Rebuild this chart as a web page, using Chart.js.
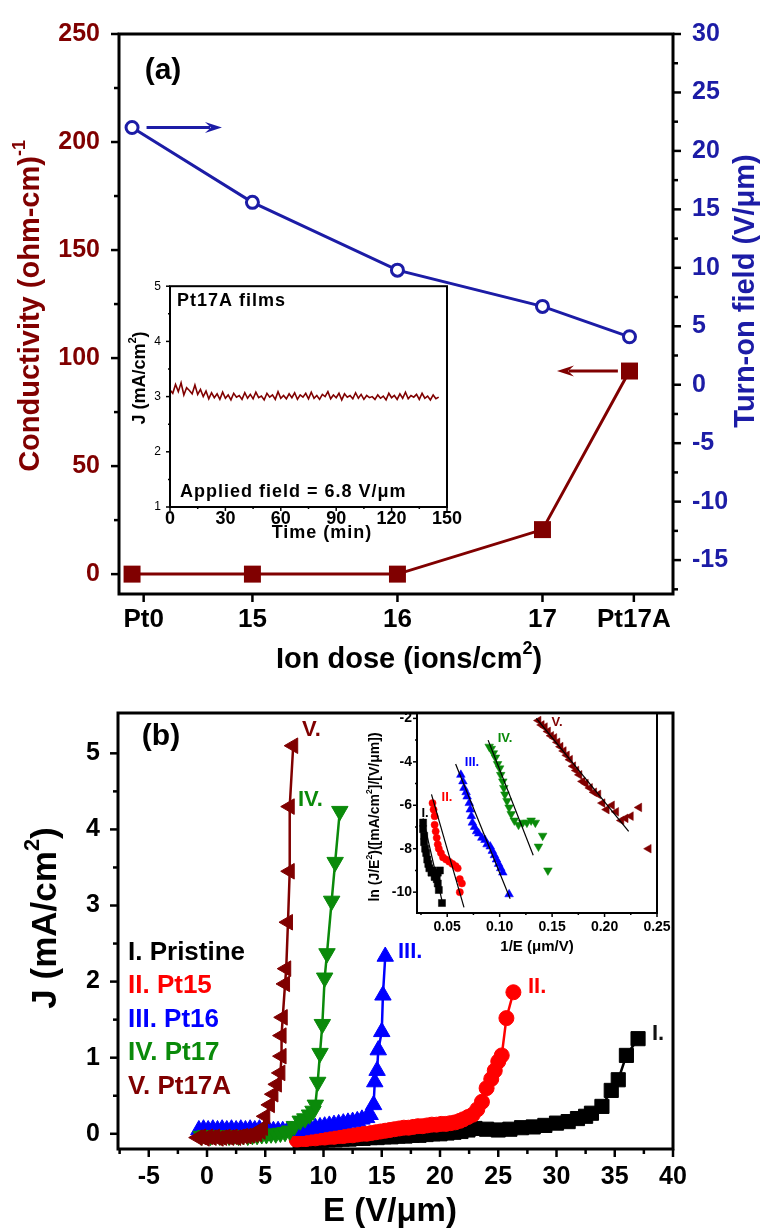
<!DOCTYPE html>
<html>
<head>
<meta charset="utf-8">
<script src="https://cdn.jsdelivr.net/npm/chart.js@4.4.0/dist/chart.umd.min.js"></script>
<style>
body { margin: 0; background: #fff; width: 762px; height: 1228px; position: relative; overflow: hidden; }
canvas { position: absolute; }
</style>
</head>
<body>
<canvas id="cA" width="762" height="680" style="left:0;top:0"></canvas>
<canvas id="cB" width="762" height="548" style="left:0;top:680px"></canvas>
<canvas id="cAi" width="345" height="280" style="left:120px;top:270px"></canvas>
<canvas id="cBi" width="320" height="260" style="left:360px;top:700px"></canvas>
<script>
var FONT = "'Liberation Sans', Arial, sans-serif";
Chart.defaults.font.family = FONT;
Chart.defaults.font.weight = 'bold';
Chart.defaults.color = '#000';
Chart.defaults.animation = false;

var DRED = '#800000', NAVY = '#1c1ca6';
var RED = '#ff0000', BLUE = '#0000ff', GREEN = '#0a8a0a';

// ---- panel (a): conductivity and turn-on field vs ion dose
var doseLabels = ['Pt0', '15', '16', '17', 'Pt17A'];
var doseTickPos = [14.25, 15, 16, 17, 17.63];
var doseX = [14.17, 15, 16, 17, 17.6];
var conductivity = [0, 0, 0, 20.6, 94];
var turnOnField = [22, 15.6, 9.8, 6.7, 4.1];
var condTicks = [0, 50, 100, 150, 200, 250];
var condMinor = [25, 75, 125, 175, 225];
var fieldTicks = [-15, -10, -5, 0, 5, 10, 15, 20, 25, 30];
var fieldMinor = [-17.5, -12.5, -7.5, -2.5, 2.5, 7.5, 12.5, 17.5, 22.5, 27.5];

// ---- inset of (a): stability of Pt17A film
var timeMin = [0, 1.5, 3, 4.5, 6, 7.5, 9, 10.5, 12, 13.5, 15, 16.5, 18, 19.5,
  21, 22.5, 24, 25.5, 27, 28.5, 30, 31.5, 33, 34.5, 36, 37.5, 39, 40.5,
  42, 43.5, 45, 46.5, 48, 49.5, 51, 52.5, 54, 55.5, 57, 58.5, 60, 61.5,
  63, 64.5, 66, 67.5, 69, 70.5, 72, 73.5, 75, 76.5, 78, 79.5, 81, 82.5,
  84, 85.5, 87, 88.5, 90, 91.5, 93, 94.5, 96, 97.5, 99, 100.5, 102, 103.5,
  105, 106.5, 108, 109.5, 111, 112.5, 114, 115.5, 117, 118.5, 120, 121.5, 123, 124.5,
  126, 127.5, 129, 130.5, 132, 133.5, 135, 136.5, 138, 139.5, 141, 142.5, 144, 145.5];
var jStab = [3.12, 3.06, 3.22, 3.09, 3.25, 3.03, 3.16, 3.11, 3.05, 3.21, 3.04, 3.13, 3.00, 3.10,
  2.96, 3.07, 2.98, 3.05, 2.95, 3.08, 2.97, 3.03, 2.94, 3.06, 2.99, 3.02, 2.95, 3.07,
  2.97, 3.04, 2.96, 3.08, 2.98, 3.01, 2.94, 3.06, 2.99, 3.03, 2.95, 3.09, 2.97, 3.02,
  2.96, 3.05, 2.98, 3.07, 2.95, 3.03, 2.99, 3.06, 2.96, 3.08, 2.97, 3.02, 2.95, 3.04,
  3.00, 3.09, 2.96, 3.03, 2.98, 3.06, 2.94, 3.05, 2.99, 3.02, 2.96, 3.07, 2.97, 3.04,
  2.95, 3.02, 2.98, 3.00, 2.95, 3.03, 2.97, 3.01, 2.94, 3.06, 2.98, 3.02, 2.95, 3.05,
  2.97, 3.08, 2.96, 3.02, 2.99, 3.04, 2.95, 3.06, 2.97, 3.01, 2.94, 3.03, 2.96, 2.99];
var timeTicks = [0, 30, 60, 90, 120, 150];
var timeMinor = [15, 45, 75, 105, 135];
var jStabTicks = [1, 2, 3, 4, 5];
var jStabMinor = [1.5, 2.5, 3.5, 4.5];

// ---- panel (b): J-E curves
var ePristine = [8.0, 8.6, 9.2, 9.8, 10.4, 11.0, 11.6, 12.2, 12.8, 13.4, 14.0, 14.6, 15.2, 15.8, 16.4, 17.0, 17.6, 18.2, 18.8, 19.4, 20.0,
  20.6, 21.2, 21.8, 22.4, 23.0, 24.0, 25.0, 26.0, 27.0, 28.0, 29.0, 30.0, 31.0, 31.8, 32.5, 33.0, 33.9, 34.7, 35.3, 36.0, 37.0];
var jPristine = [-0.1, -0.1, -0.09, -0.09, -0.08, -0.08, -0.07, -0.07, -0.06, -0.06, -0.05, -0.05, -0.04, -0.04, -0.03, -0.03, -0.02, -0.02, -0.01, 0.0, 0.0,
  0.01, 0.02, 0.03, 0.05, 0.07, 0.06, 0.05, 0.06, 0.08, 0.09, 0.11, 0.14, 0.16, 0.2, 0.23, 0.27, 0.36, 0.57, 0.71, 1.03, 1.25];
var ePt15 = [7.7, 8.1, 8.5, 8.9, 9.3, 9.7, 10.1, 10.5, 10.9, 11.3, 11.7, 12.1, 12.5, 12.9, 13.3, 13.7, 14.1, 14.5, 14.9, 15.3, 15.7, 16.1, 16.5, 16.9,
  17.3, 17.7, 18.1, 18.5, 18.9, 19.3, 19.7, 20.1, 20.5, 20.9, 21.3, 21.7, 22.0, 22.4, 22.8, 23.2, 23.6, 24.0, 24.4, 24.7, 25.0, 25.3, 25.7, 26.3];
var jPt15 = [-0.08, -0.07, -0.07, -0.06, -0.06, -0.05, -0.05, -0.04, -0.04, -0.03, -0.03, -0.02, -0.02, -0.01, 0.0, 0.0, 0.01, 0.02, 0.03, 0.04, 0.05, 0.06, 0.07, 0.08,
  0.08, 0.09, 0.1, 0.1, 0.11, 0.12, 0.12, 0.13, 0.13, 0.14, 0.15, 0.17, 0.19, 0.22, 0.25, 0.32, 0.42, 0.6, 0.72, 0.83, 0.95, 1.03, 1.52, 1.86];
var ePt16 = [-0.7, -0.3, 0.1, 0.5, 0.9, 1.3, 1.7, 2.1, 2.5, 2.9, 3.3, 3.7, 4.1, 4.5, 4.9, 5.3, 5.7, 6.1, 6.5, 6.9, 7.3, 7.7, 8.1,
  8.5, 8.9, 9.3, 9.7, 10.1, 10.5, 10.9, 11.3, 11.7, 12.1, 12.5, 12.9, 13.3, 13.7, 14.0, 14.3, 14.4, 14.6, 14.7, 15.0, 15.1, 15.3];
var jPt16 = [0.05, 0.06, 0.05, 0.06, 0.05, 0.06, 0.05, 0.06, 0.05, 0.06, 0.05, 0.06, 0.05, 0.06, 0.05, 0.05, 0.04, 0.04, 0.04, 0.04, 0.04, 0.04, 0.05,
  0.06, 0.07, 0.08, 0.09, 0.1, 0.11, 0.12, 0.13, 0.14, 0.15, 0.16, 0.17, 0.19, 0.21, 0.25, 0.38, 0.68, 0.83, 1.1, 1.34, 1.82, 2.33];
var ePt17 = [-0.5, -0.1, 0.3, 0.7, 1.1, 1.5, 1.9, 2.3, 2.7, 3.1, 3.5, 3.9, 4.3, 4.7, 5.1, 5.5, 5.9, 6.3, 6.7, 7.1, 7.5,
  8.0, 8.4, 8.8, 9.1, 9.3, 9.5, 9.7, 9.9, 10.1, 10.3, 10.7, 11.0, 11.4];
var jPt17 = [-0.03, -0.02, -0.03, -0.02, -0.03, -0.02, -0.03, -0.02, -0.03, -0.02, -0.03, -0.02, -0.02, -0.01, -0.01, 0.0, 0.0, 0.01, 0.02, 0.04, 0.1,
  0.17, 0.2, 0.25, 0.3, 0.38, 0.68, 1.06, 1.44, 2.05, 2.37, 3.06, 3.57, 4.24];
var ePt17A = [-0.8, -0.5, -0.2, 0.1, 0.4, 0.7, 1.0, 1.3, 1.6, 1.9, 2.2, 2.5, 2.8, 3.1, 3.4, 3.7, 4.0, 4.3, 4.6, 4.8,
  5.0, 5.4, 5.7, 6.0, 6.3, 6.4, 6.4, 6.5, 6.7, 6.8, 6.95, 7.1, 7.1, 7.4];
var jPt17A = [-0.05, -0.04, -0.06, -0.04, -0.05, -0.04, -0.06, -0.05, -0.04, -0.05, -0.04, -0.05, -0.04, -0.03, -0.03, -0.02, -0.01, 0.0, 0.03, 0.08,
  0.23, 0.38, 0.52, 0.65, 0.8, 1.02, 1.29, 1.53, 1.97, 2.17, 2.78, 3.45, 4.3, 5.1];
var eTicks = [-5, 0, 5, 10, 15, 20, 25, 30, 35, 40];
var eMinor = [-7.5, -2.5, 2.5, 7.5, 12.5, 17.5, 22.5, 27.5, 32.5, 37.5];
var jTicks = [0, 1, 2, 3, 4, 5];
var jMinor = [0.5, 1.5, 2.5, 3.5, 4.5];

// ---- inset of (b): F-N plots with linear fits
var fnX1 = [0.027, 0.027, 0.028, 0.028, 0.029, 0.030, 0.031, 0.032, 0.033, 0.035, 0.036, 0.038, 0.040, 0.041, 0.043, 0.041, 0.042, 0.045];
var fnY1 = [-6.8, -7.1, -7.4, -7.7, -8.0, -8.2, -8.5, -8.7, -8.9, -9.1, -9.0, -9.3, -9.4, -9.1, -9.0, -9.6, -9.9, -10.5];
var fnX2 = [0.036, 0.037, 0.038, 0.038, 0.039, 0.040, 0.041, 0.042, 0.044, 0.046, 0.049, 0.052, 0.055, 0.058, 0.060, 0.062, 0.064, 0.062];
var fnY2 = [-5.9, -6.2, -6.5, -6.9, -7.2, -7.5, -7.8, -8.0, -8.2, -8.4, -8.5, -8.6, -8.7, -8.8, -8.9, -9.4, -9.6, -10.0];
var fnX3 = [0.063, 0.065, 0.066, 0.068, 0.069, 0.071, 0.072, 0.073, 0.074, 0.076, 0.078, 0.080, 0.083, 0.086, 0.088, 0.091, 0.093, 0.095, 0.097, 0.099, 0.101, 0.103, 0.109];
var fnY3 = [-4.6, -4.9, -5.2, -5.4, -5.6, -5.9, -6.2, -6.5, -6.8, -7.0, -7.2, -7.3, -7.5, -7.6, -7.8, -7.9, -8.1, -8.3, -8.5, -8.7, -8.9, -9.1, -10.1];
var fnX4 = [0.090, 0.092, 0.094, 0.096, 0.098, 0.100, 0.101, 0.103, 0.104, 0.105, 0.107, 0.109, 0.111, 0.114, 0.118, 0.122, 0.126, 0.130, 0.134, 0.137, 0.141, 0.146];
var fnY4 = [-3.3, -3.4, -3.6, -3.8, -4.1, -4.3, -4.6, -4.9, -5.2, -5.5, -5.8, -6.1, -6.4, -6.7, -6.9, -6.8, -6.8, -6.7, -6.8, -7.9, -7.4, -9.0];
var fnX5 = [0.137, 0.140, 0.143, 0.146, 0.149, 0.152, 0.155, 0.158, 0.161, 0.164, 0.167, 0.170, 0.173, 0.176, 0.179, 0.182, 0.186, 0.190, 0.194, 0.198,
  0.202, 0.207, 0.211, 0.216, 0.220, 0.225, 0.233, 0.242];
var fnY5 = [-2.1, -2.3, -2.4, -2.6, -2.8, -2.9, -3.1, -3.3, -3.5, -3.7, -3.9, -4.2, -4.4, -4.6, -4.9, -5.0, -5.2, -5.4, -5.5, -5.9,
  -6.2, -6.0, -6.3, -6.7, -6.6, -6.5, -6.1, -8.0];
// fit lines: [x start, x end], [y start, y end]
var fitX = [[0.027, 0.046], [0.035, 0.066], [0.058, 0.110], [0.089, 0.132], [0.135, 0.223]];
var fitY = [[-6.6, -10.6], [-5.5, -10.7], [-4.1, -10.3], [-3.0, -8.3], [-2.0, -7.2]];
var invETicks = [0.05, 0.10, 0.15, 0.20, 0.25];
var invEMinor = [0.025, 0.075, 0.125, 0.175, 0.225];
var lnTicks = [-10, -8, -6, -4, -2];
var lnMinor = [-9, -7, -5, -3];

function pts(xs, ys) {
  return xs.map(function (x, i) { return { x: x, y: ys[i] }; });
}

function axis(o) {
  return {
    type: 'linear',
    position: o.pos,
    min: o.min,
    max: o.max,
    grid: { display: false, drawTicks: false },
    border: { display: false },
    afterBuildTicks: function (s) { s.ticks = o.ticks.map(function (v) { return { value: v }; }); },
    afterFit: function (s) { if (o.pos === 'bottom') s.height = o.size; else s.width = o.size; },
    ticks: {
      padding: o.pad,
      color: o.color || '#000',
      autoSkip: false,
      maxRotation: 0,
      font: { size: o.font, weight: o.weight || 'bold' },
      callback: o.cb || function (v) { return v; }
    }
  };
}

function rich(c, t, off) {
  var size = t.size;
  var f = function (s) { return 'bold ' + s + 'px ' + FONT; };
  var parts = t.p.map(function (p) { return { s: p[0], sup: !!p[1] }; });
  c.save();
  c.letterSpacing = (t.ls || 0) + 'px';
  var total = 0;
  parts.forEach(function (p) {
    c.font = f(p.sup ? size * 0.62 : size);
    p.w = c.measureText(p.s).width;
    total += p.w;
  });
  c.translate(t.x - off[0], t.y - off[1]);
  if (t.rot) c.rotate(t.rot * Math.PI / 180);
  c.fillStyle = t.color || '#000';
  c.textBaseline = 'middle';
  var x = t.align === 'left' ? 0 : -total / 2;
  parts.forEach(function (p) {
    c.font = f(p.sup ? size * 0.62 : size);
    c.fillText(p.s, x, p.sup ? -size * 0.38 : 0);
    x += p.w;
  });
  c.restore();
}

function arrow(c, x1, y1, x2, y2, col, w) {
  var ang = Math.atan2(y2 - y1, x2 - x1), L = 17, H = 5.5;
  c.save();
  c.strokeStyle = col; c.fillStyle = col; c.lineWidth = w;
  c.beginPath();
  c.moveTo(x1, y1);
  c.lineTo(x2 - L * 0.7 * Math.cos(ang), y2 - L * 0.7 * Math.sin(ang));
  c.stroke();
  c.translate(x2, y2); c.rotate(ang);
  c.beginPath();
  c.moveTo(0, 0); c.lineTo(-L, -H); c.lineTo(-L * 0.65, 0); c.lineTo(-L, H);
  c.closePath(); c.fill();
  c.restore();
}

// frame, outward tick marks (major + minor), arrows and free text
var deco = {
  id: 'deco',
  beforeDraw: function (chart, args, o) {
    if (!o.white) return;
    var a = chart.chartArea, c = chart.ctx;
    c.save(); c.fillStyle = '#fff';
    c.fillRect(a.left, a.top, a.right - a.left, a.bottom - a.top);
    c.restore();
  },
  afterDatasetsDraw: function (chart, args, o) {
    (o.arrows || []).forEach(function (ar) {
      var sx = chart.scales.x, sy = chart.scales[ar.axis];
      arrow(chart.ctx, sx.getPixelForValue(ar.from[0]), sy.getPixelForValue(ar.from[1]),
        sx.getPixelForValue(ar.to[0]), sy.getPixelForValue(ar.to[1]), ar.color, 3);
    });
  },
  afterDraw: function (chart, args, o) {
    var c = chart.ctx, a = chart.chartArea;
    if (o.frame) {
      c.save(); c.strokeStyle = '#000'; c.lineWidth = o.frame;
      c.strokeRect(a.left, a.top, a.right - a.left, a.bottom - a.top);
      c.restore();
    }
    var marks = o.marks || {};
    Object.keys(marks).forEach(function (id) {
      var s = chart.scales[id], m = marks[id];
      c.save(); c.strokeStyle = '#000'; c.lineWidth = o.tw || 2;
      var draw = function (v, L) {
        var p = s.getPixelForValue(v);
        c.beginPath();
        if (s.isHorizontal()) { c.moveTo(p, s.top); c.lineTo(p, s.top + L); }
        else if (s.position === 'left') { c.moveTo(s.right, p); c.lineTo(s.right - L, p); }
        else { c.moveTo(s.left, p); c.lineTo(s.left + L, p); }
        c.stroke();
      };
      s.ticks.forEach(function (t) { draw(t.value, m.len); });
      (m.minor || []).forEach(function (v) { draw(v, m.mlen); });
      c.restore();
    });
    (o.texts || []).forEach(function (t) { rich(c, t, o.off || [0, 0]); });
  }
};
Chart.register(deco);

var noUi = { legend: { display: false }, tooltip: { enabled: false } };

// ---------- panel (a)
new Chart(document.getElementById('cA'), {
  type: 'scatter',
  data: {
    datasets: [{
      data: pts(doseX, turnOnField),
      yAxisID: 'y2',
      showLine: true,
      borderColor: NAVY,
      borderWidth: 3,
      pointStyle: 'circle',
      pointRadius: 6,
      pointBorderWidth: 3,
      pointBorderColor: NAVY,
      pointBackgroundColor: '#fff'
    }, {
      data: pts(doseX, conductivity),
      yAxisID: 'y',
      showLine: true,
      borderColor: DRED,
      borderWidth: 3,
      pointStyle: 'rect',
      pointRadius: 12,
      pointBorderWidth: 0,
      pointBackgroundColor: DRED
    }]
  },
  options: {
    responsive: false,
    events: [],
    layout: { padding: { top: 29, left: 0, right: 0, bottom: 0 } },
    scales: {
      x: axis({ pos: 'bottom', min: 14.08, max: 17.9, ticks: doseTickPos, size: 86, pad: 10, font: 26,
        cb: function (v, i) { return doseLabels[i]; } }),
      y: axis({ pos: 'left', min: -9.2, max: 250, ticks: condTicks, size: 119, pad: 19, font: 25, color: DRED }),
      y2: axis({ pos: 'right', min: -17.9, max: 30, ticks: fieldTicks, size: 89, pad: 19, font: 25, color: NAVY })
    },
    plugins: {
      legend: noUi.legend, tooltip: noUi.tooltip,
      deco: {
        frame: 3, tw: 2.5,
        marks: { x: { len: 8 }, y: { len: 8, minor: condMinor, mlen: 5 }, y2: { len: 8, minor: fieldMinor, mlen: 5 } },
        arrows: [
          { axis: 'y2', from: [14.27, 22], to: [14.79, 22], color: NAVY },
          { axis: 'y', from: [17.52, 94], to: [17.1, 94], color: DRED }
        ],
        texts: [
          { p: [['(a)']], x: 163, y: 71, size: 30 },
          { p: [['Conductivity (ohm-cm)'], ['-1', 1]], x: 31, y: 306, size: 29, color: DRED, rot: -90 },
          { p: [['Turn-on field (V/\u03bcm)']], x: 746, y: 291, size: 29, color: NAVY, rot: -90 },
          { p: [['Ion dose (ions/cm'], ['2', 1], [')']], x: 409, y: 660, size: 29 }
        ]
      }
    }
  }
});

// ---------- inset of (a)
new Chart(document.getElementById('cAi'), {
  type: 'scatter',
  data: {
    datasets: [{
      data: pts(timeMin, jStab),
      showLine: true,
      borderColor: DRED,
      borderWidth: 1.6,
      pointRadius: 0
    }]
  },
  options: {
    responsive: false,
    events: [],
    layout: { padding: { top: 12, left: 0, right: 18, bottom: 0 } },
    scales: {
      x: axis({ pos: 'bottom', min: 0, max: 150, ticks: timeTicks, size: 43, pad: 1, font: 18 }),
      y: axis({ pos: 'left', min: 1, max: 5, ticks: jStabTicks, size: 50, pad: 9, font: 12, weight: 'normal' })
    },
    plugins: {
      legend: noUi.legend, tooltip: noUi.tooltip,
      deco: {
        white: true, frame: 2, tw: 1.5, off: [120, 270],
        marks: { x: { len: 4, minor: timeMinor, mlen: 2 }, y: { len: 4, minor: jStabMinor, mlen: 2 } },
        texts: [
          { p: [['Pt17A films']], x: 177, y: 301, size: 18, align: 'left', ls: 1 },
          { p: [['Applied field = 6.8 V/\u03bcm']], x: 180, y: 492, size: 18, align: 'left', ls: 1 },
          { p: [['J (mA/cm'], ['2', 1], [')']], x: 140, y: 378, size: 18, rot: -90 },
          { p: [['Time (min)']], x: 322, y: 533, size: 18, ls: 1 }
        ]
      }
    }
  }
});

// ---------- panel (b)
function series(xs, ys, color, style, r, rot, order) {
  return {
    data: pts(xs, ys),
    showLine: true,
    borderColor: color,
    backgroundColor: color,
    borderWidth: 2.5,
    pointStyle: style,
    pointRadius: r,
    pointRotation: rot,
    pointBorderWidth: 1,
    pointBorderColor: color,
    pointBackgroundColor: color,
    order: order
  };
}

new Chart(document.getElementById('cB'), {
  type: 'scatter',
  data: {
    datasets: [
      series(ePristine, jPristine, '#000', 'rect', 10, 0, 5),
      series(ePt15, jPt15, RED, 'circle', 7.5, 0, 4),
      series(ePt16, jPt16, BLUE, 'triangle', 9.5, 0, 3),
      series(ePt17, jPt17, GREEN, 'triangle', 9.5, 180, 2),
      series(ePt17A, jPt17A, DRED, 'triangle', 9, -90, 1)
    ]
  },
  options: {
    responsive: false,
    events: [],
    layout: { padding: { top: 19, left: 0, right: 89, bottom: 0 } },
    scales: {
      x: axis({ pos: 'bottom', min: -7.64, max: 40, ticks: eTicks, size: 79, pad: 13, font: 25 }),
      y: axis({ pos: 'left', min: -0.2, max: 5.53, ticks: jTicks, size: 118, pad: 18, font: 25 })
    },
    plugins: {
      legend: noUi.legend, tooltip: noUi.tooltip,
      deco: {
        frame: 3, tw: 2.5, off: [0, 680],
        marks: { x: { len: 8, minor: eMinor, mlen: 5 }, y: { len: 8, minor: jMinor, mlen: 5 } },
        texts: [
          { p: [['(b)']], x: 161, y: 737, size: 30 },
          { p: [['J (mA/cm'], ['2', 1], [')']], x: 46, y: 918, size: 35, rot: -90 },
          { p: [['E (V/\u03bcm)']], x: 390, y: 1212, size: 33 },
          { p: [['I. Pristine']], x: 128, y: 953, size: 26, align: 'left' },
          { p: [['II. Pt15']], x: 128, y: 986, size: 26, align: 'left', color: RED },
          { p: [['III. Pt16']], x: 128, y: 1020, size: 26, align: 'left', color: BLUE },
          { p: [['IV. Pt17']], x: 128, y: 1053, size: 26, align: 'left', color: GREEN },
          { p: [['V. Pt17A']], x: 128, y: 1087, size: 26, align: 'left', color: DRED },
          { p: [['V.']], x: 302, y: 730, size: 22, align: 'left', color: DRED },
          { p: [['IV.']], x: 298, y: 800, size: 22, align: 'left', color: GREEN },
          { p: [['III.']], x: 398, y: 952, size: 22, align: 'left', color: BLUE },
          { p: [['II.']], x: 528, y: 987, size: 22, align: 'left', color: RED },
          { p: [['I.']], x: 652, y: 1034, size: 22, align: 'left', color: '#111' }
        ]
      }
    }
  }
});

// ---------- inset of (b)
function dots(xs, ys, color, style, r, rot) {
  return {
    data: pts(xs, ys), showLine: false,
    pointStyle: style, pointRadius: r, pointRotation: rot,
    pointBorderWidth: 0.5, pointBorderColor: color, pointBackgroundColor: color, order: 2
  };
}
var fitSets = fitX.map(function (xs, i) {
  return { data: pts(xs, fitY[i]), showLine: true, borderColor: '#000', borderWidth: 1.2, pointRadius: 0, order: 1 };
});

new Chart(document.getElementById('cBi'), {
  type: 'scatter',
  data: {
    datasets: [
      dots(fnX1, fnY1, '#000', 'rect', 5, 0),
      dots(fnX2, fnY2, RED, 'circle', 3.6, 0),
      dots(fnX3, fnY3, BLUE, 'triangle', 5, 0),
      dots(fnX4, fnY4, GREEN, 'triangle', 5, 180),
      dots(fnX5, fnY5, DRED, 'triangle', 5, -90)
    ].concat(fitSets)
  },
  options: {
    responsive: false,
    events: [],
    layout: { padding: { top: 12, left: 0, right: 23, bottom: 0 } },
    scales: {
      x: axis({ pos: 'bottom', min: 0.0212, max: 0.25, ticks: invETicks, size: 47, pad: 6, font: 14,
        cb: function (v) { return v.toFixed(2); } }),
      y: axis({ pos: 'left', min: -10.96, max: -1.77, ticks: lnTicks, size: 57, pad: 5, font: 14 })
    },
    plugins: {
      legend: noUi.legend, tooltip: noUi.tooltip,
      deco: {
        white: true, frame: 2, tw: 1.5, off: [360, 700],
        marks: { x: { len: 4, minor: invEMinor, mlen: 2 }, y: { len: 4, minor: lnMinor, mlen: 2 } },
        texts: [
          { p: [['ln (J/E'], ['2', 1], [')([mA/cm'], ['2', 1], [']/[V/\u03bcm])']], x: 375, y: 817, size: 14, rot: -90 },
          { p: [['1/E (\u03bcm/V)']], x: 537, y: 947, size: 15 },
          { p: [['I.']], x: 425, y: 813, size: 13, color: '#000' },
          { p: [['II.']], x: 447, y: 797, size: 13, color: RED },
          { p: [['III.']], x: 472, y: 762, size: 13, color: BLUE },
          { p: [['IV.']], x: 505, y: 738, size: 13, color: GREEN },
          { p: [['V.']], x: 557, y: 722, size: 13, color: DRED }
        ]
      }
    }
  }
});
</script>
</body>
</html>
